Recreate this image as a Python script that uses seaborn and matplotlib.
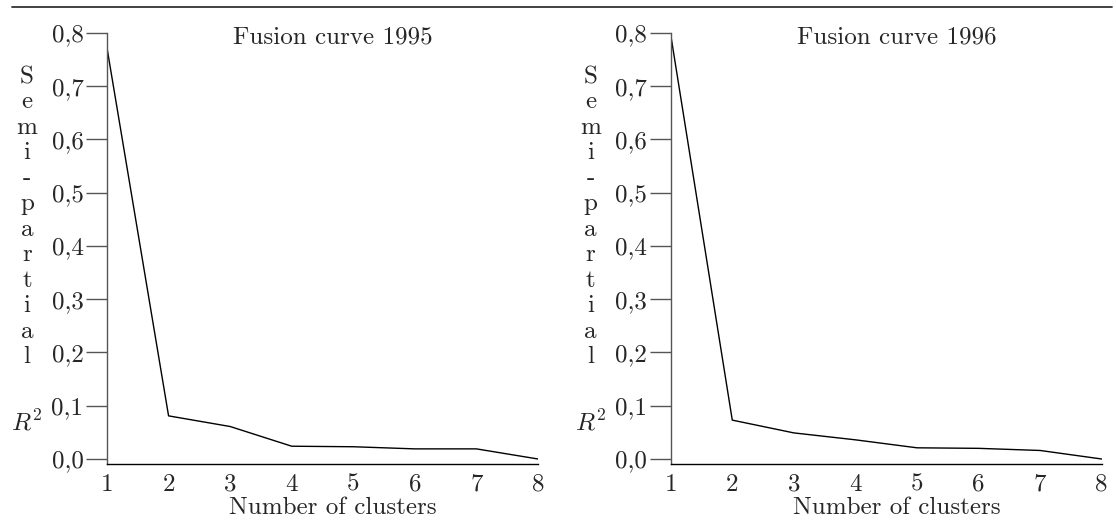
import numpy as np
import pandas as pd
import matplotlib
matplotlib.use("Agg")
import matplotlib.pyplot as plt
from matplotlib.lines import Line2D
import seaborn as sns

# ---- data ----
clusters = [1, 2, 3, 4, 5, 6, 7, 8]
r2_1995 = [0.772, 0.081, 0.061, 0.024, 0.023, 0.019, 0.019, 0.0]
r2_1996 = [0.797, 0.073, 0.049, 0.036, 0.021, 0.020, 0.016, 0.0]
titles = ["Fusion curve 1995", "Fusion curve 1996"]
yticks = [0.0, 0.1, 0.2, 0.3, 0.4, 0.5, 0.6, 0.7, 0.8]
yticklabels = ["0,0", "0,1", "0,2", "0,3", "0,4", "0,5", "0,6", "0,7", "0,8"]
xlabel = "Number of clusters"
ylabel_word = "Semi-partial"
ylabel_sym = r"$R^2$"

sns.set_theme(style="white")
plt.rcParams["font.family"] = ["cmr10", "DejaVu Serif"]
plt.rcParams["mathtext.fontset"] = "cm"
plt.rcParams["axes.formatter.use_mathtext"] = True
plt.rcParams["axes.unicode_minus"] = False

FS = 18
W, H = 1116, 526
fig = plt.figure(figsize=(W / 100, H / 100), dpi=100)

axw = 431 / W
axh = 431 / H
bottom = 1 - 464 / H
lefts = [107 / W, 670.7 / W]

series = [r2_1995, r2_1996]
for k in range(2):
    ax = fig.add_axes([lefts[k], bottom, axw, axh])
    df = pd.DataFrame({"clusters": clusters, "r2": series[k]})
    sns.lineplot(data=df, x="clusters", y="r2", ax=ax, color="black", linewidth=1.0)
    ax.set_xlim(1, 8)
    ax.set_ylim(-0.0094, 0.8)
    ax.set_xticks(clusters)
    ax.set_xticklabels([str(c) for c in clusters], fontsize=FS)
    ax.set_yticks(yticks)
    ax.set_yticklabels(yticklabels, fontsize=FS)
    ax.tick_params(axis="x", length=0, pad=7)
    ax.tick_params(axis="y", length=15, width=1.0, color="#555555", pad=2, left=True)
    for s in ["top", "right"]:
        ax.spines[s].set_visible(False)
    ax.spines["left"].set_color("#555555")
    ax.spines["left"].set_linewidth(1.0)
    ax.spines["bottom"].set_color("black")
    ax.spines["bottom"].set_linewidth(1.0)
    ax.set_xlabel(xlabel, fontsize=FS)
    ax.xaxis.set_label_coords(0.525, (464 - 514) / 431)
    ax.xaxis.label.set_va("baseline")
    ax.set_ylabel("")
    ax.text(0.525, (464 - 43) / 431, titles[k], transform=ax.transAxes,
            ha="center", va="baseline", fontsize=FS)
    # stacked y label
    for i, ch in enumerate(ylabel_word):
        yb = 83 + i * 25.45
        ax.text(-80 / 431, (464 - yb) / 431, ch, transform=ax.transAxes,
                ha="center", va="baseline", fontsize=FS)
    ax.text(-80 / 431, (464 - 430) / 431, ylabel_sym, transform=ax.transAxes,
            ha="center", va="baseline", fontsize=FS)
    ax.patch.set_alpha(0)

fig.add_artist(Line2D([12 / W, 1112 / W], [1 - 7 / H, 1 - 7 / H],
                      transform=fig.transFigure, color="#333333", linewidth=1.3))

fig.savefig("out.png", dpi=100, facecolor="white")
